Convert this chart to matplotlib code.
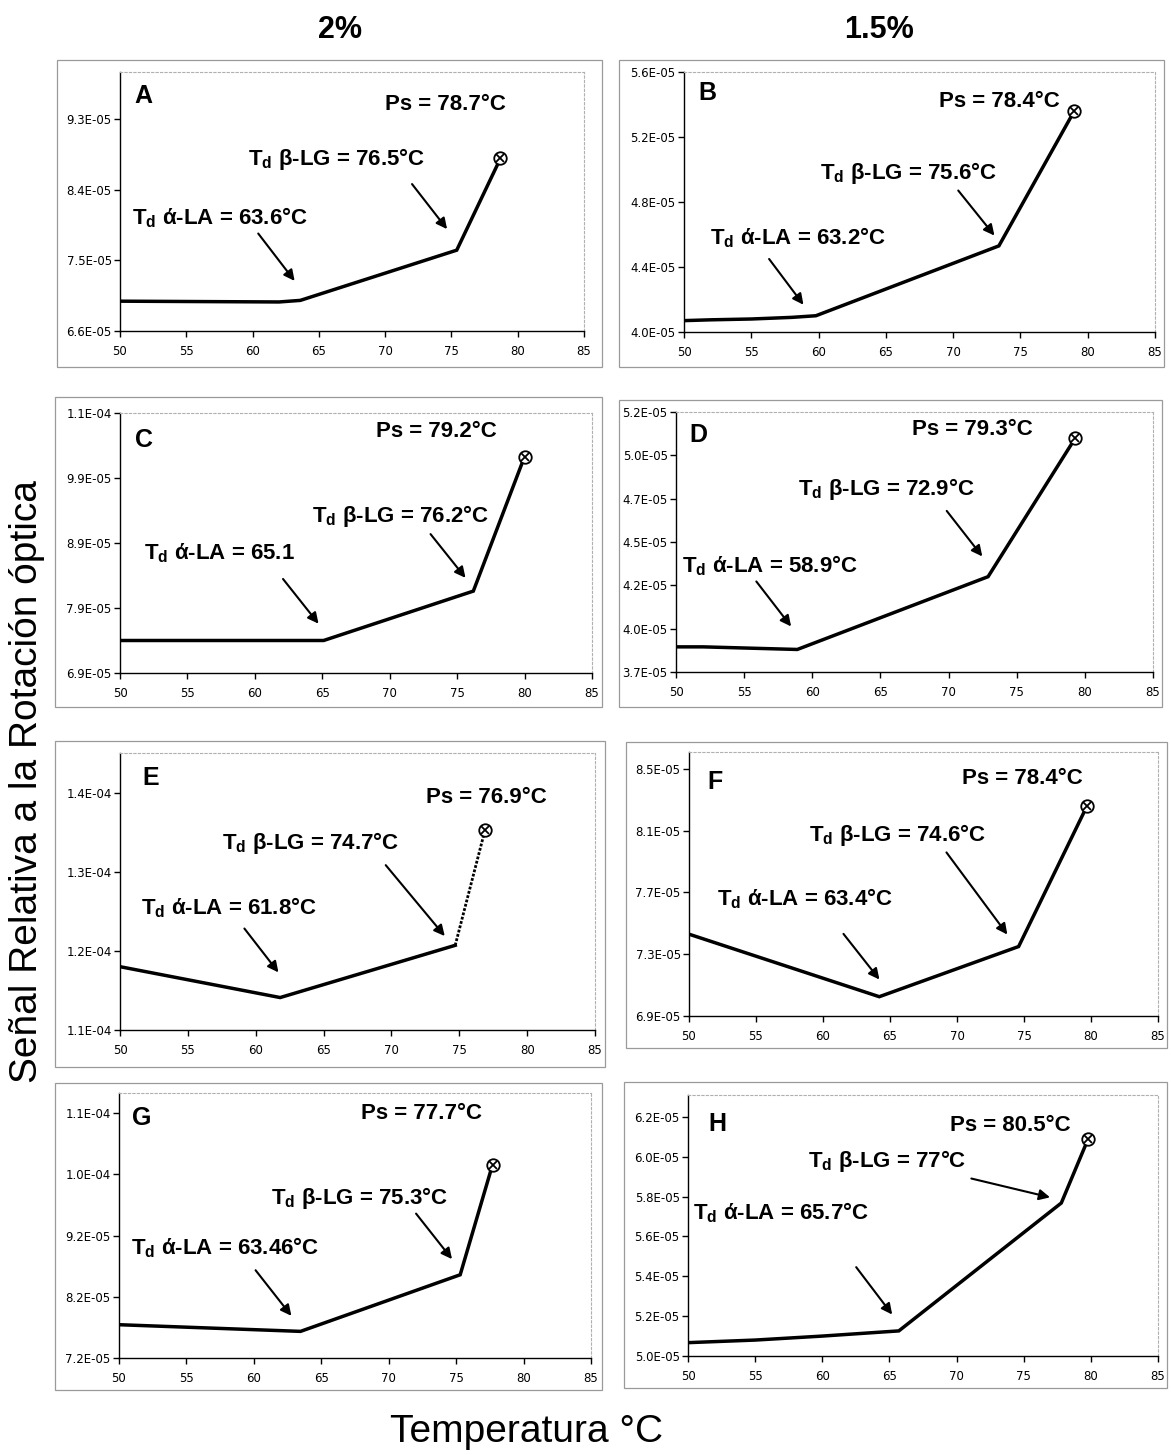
import matplotlib
matplotlib.use("Agg")
import matplotlib.pyplot as plt
from matplotlib.patches import Rectangle

plt.rcParams['font.family'] = ['Liberation Sans', 'DejaVu Sans']

W, H = 1171, 1455

# temperature (°C) / optical rotation signal for each panel
temp_A = [50, 62, 63.6, 75.4, 78.7]
signal_A = [6.98e-5, 6.97e-5, 6.99e-5, 7.63e-5, 8.80e-5]
temp_B = [50, 52, 55, 58, 59.8, 73.4, 79.0]
signal_B = [4.07e-5, 4.075e-5, 4.08e-5, 4.09e-5, 4.10e-5, 4.53e-5, 5.36e-5]
temp_C = [50, 65.1, 76.2, 80.0]
signal_C = [7.40e-5, 7.40e-5, 8.16e-5, 10.23e-5]
temp_D = [50, 52, 58.9, 72.9, 79.3]
signal_D = [3.845e-5, 3.845e-5, 3.83e-5, 4.25e-5, 5.05e-5]
temp_E = [50, 61.8, 74.7]
signal_E = [1.180e-4, 1.141e-4, 1.207e-4]
temp_E_end = [74.7, 76.9]
signal_E_end = [1.207e-4, 1.353e-4]
temp_F = [50, 64.2, 74.6, 79.7]
signal_F = [7.43e-5, 7.025e-5, 7.35e-5, 8.26e-5]
temp_G = [50, 63.46, 75.3, 77.7]
signal_G = [7.744e-5, 7.635e-5, 8.56e-5, 10.36e-5]
temp_H = [50, 55, 60, 65.7, 77.8, 79.8]
signal_H = [5.067e-5, 5.08e-5, 5.10e-5, 5.126e-5, 5.768e-5, 6.09e-5]

yticks_A = [6.6e-5, 7.5e-5, 8.4e-5, 9.3e-5]
ylabels_A = ['6.6E-05', '7.5E-05', '8.4E-05', '9.3E-05']
yticks_B = [4.0e-5, 4.4e-5, 4.8e-5, 5.2e-5, 5.6e-5]
ylabels_B = ['4.0E-05', '4.4E-05', '4.8E-05', '5.2E-05', '5.6E-05']
yticks_C = [6.9e-5, 7.9e-5, 8.9e-5, 9.9e-5, 10.9e-5]
ylabels_C = ['6.9E-05', '7.9E-05', '8.9E-05', '9.9E-05', '1.1E-04']
yticks_D = [3.70e-5, 3.95e-5, 4.20e-5, 4.45e-5, 4.70e-5, 4.95e-5, 5.20e-5]
ylabels_D = ['3.7E-05', '4.0E-05', '4.2E-05', '4.5E-05', '4.7E-05', '5.0E-05', '5.2E-05']
yticks_E = [1.1e-4, 1.2e-4, 1.3e-4, 1.4e-4]
ylabels_E = ['1.1E-04', '1.2E-04', '1.3E-04', '1.4E-04']
yticks_F = [6.9e-5, 7.3e-5, 7.7e-5, 8.1e-5, 8.5e-5]
ylabels_F = ['6.9E-05', '7.3E-05', '7.7E-05', '8.1E-05', '8.5E-05']
yticks_G = [7.2e-5, 8.2e-5, 9.2e-5, 10.2e-5, 11.2e-5]
ylabels_G = ['7.2E-05', '8.2E-05', '9.2E-05', '1.0E-04', '1.1E-04']
yticks_H = [5.0e-5, 5.2e-5, 5.4e-5, 5.6e-5, 5.8e-5, 6.0e-5, 6.2e-5]
ylabels_H = ['5.0E-05', '5.2E-05', '5.4E-05', '5.6E-05', '5.8E-05', '6.0E-05', '6.2E-05']

xticks = [50, 55, 60, 65, 70, 75, 80, 85]

td_alpha = ['63.6°C', '63.2°C', '65.1', '58.9°C', '61.8°C', '63.4°C', '63.46°C', '65.7°C']
td_beta = ['76.5°C', '75.6°C', '76.2°C', '72.9°C', '74.7°C', '74.6°C', '75.3°C', '77°C']
ps_temp = ['78.7°C', '78.4°C', '79.2°C', '79.3°C', '76.9°C', '78.4°C', '77.7°C', '80.5°C']

panels = ['A', 'B', 'C', 'D', 'E', 'F', 'G', 'H']
temps = [temp_A, temp_B, temp_C, temp_D, temp_E, temp_F, temp_G, temp_H]
signals = [signal_A, signal_B, signal_C, signal_D, signal_E, signal_F, signal_G, signal_H]
yticks = [yticks_A, yticks_B, yticks_C, yticks_D, yticks_E, yticks_F, yticks_G, yticks_H]
ylabels = [ylabels_A, ylabels_B, ylabels_C, ylabels_D, ylabels_E, ylabels_F, ylabels_G, ylabels_H]

# layout in pixels: axes box (l, t, r, b), outer frame, y-limits, and
# label / arrow positions in data units (y in units of 1e-5)
layout = {
    'A': dict(ax=(120, 72, 584, 331), frame=(57, 60, 602, 367), ylim=(6.6, 9.9),
              letter=(51.1, 9.59), ps=(79.1, 9.48), beta=(66.3, 8.79), alpha=(57.5, 8.04),
              beta_arrow=((71.9, 8.50), (74.8, 7.87)), alpha_arrow=((60.3, 7.87), (63.3, 7.21))),
    'B': dict(ax=(684, 72, 1155, 332), frame=(619, 60, 1164, 367), ylim=(4.0, 5.6),
              letter=(51.1, 5.47), ps=(77.9, 5.42), beta=(66.7, 4.977), alpha=(58.5, 4.58),
              beta_arrow=((70.25, 4.884), (73.2, 4.58)), alpha_arrow=((56.2, 4.463), (59.0, 4.154))),
    'C': dict(ax=(120, 413, 592, 673), frame=(55, 397, 602, 707), ylim=(6.9, 10.9),
              letter=(51.1, 10.49), ps=(77.9, 10.61), beta=(70.8, 9.32), alpha=(57.4, 8.74),
              beta_arrow=((72.9, 9.07), (75.75, 8.33)), alpha_arrow=((61.96, 8.38), (64.85, 7.625))),
    'D': dict(ax=(676, 412, 1153, 672), frame=(619, 400, 1162, 707), ylim=(3.7, 5.2),
              letter=(51.0, 5.07), ps=(76.2, 5.10), beta=(65.4, 4.758), alpha=(56.9, 4.315),
              beta_arrow=((69.74, 4.642), (72.6, 4.354)), alpha_arrow=((55.77, 4.235), (58.57, 3.95))),
    'E': dict(ax=(120, 753, 595, 1030), frame=(55, 741, 605, 1067), ylim=(11.0, 14.5),
              letter=(51.65, 14.18), ps=(81.45, 13.94), beta=(64.05, 13.36), alpha=(58.04, 12.55),
              beta_arrow=((69.45, 13.11), (74.06, 12.16)), alpha_arrow=((59.04, 12.31), (61.8, 11.70))),
    'F': dict(ax=(689, 752, 1158, 1016), frame=(626, 742, 1167, 1048), ylim=(6.9, 8.61),
              letter=(51.4, 8.416), ps=(79.4, 8.437), beta=(65.54, 8.07), alpha=(58.66, 7.657),
              beta_arrow=((69.09, 7.974), (73.88, 7.413)), alpha_arrow=((61.4, 7.446), (64.34, 7.122))),
    'G': dict(ax=(119, 1093, 591, 1358), frame=(55, 1083, 602, 1390), ylim=(7.2, 11.53),
              letter=(50.95, 11.12), ps=(76.93, 11.2), beta=(67.86, 9.81), alpha=(57.86, 9.0),
              beta_arrow=((71.9, 9.595), (74.82, 8.78)), alpha_arrow=((60.0, 8.67), (62.91, 7.853))),
    'H': dict(ax=(688, 1095, 1158, 1356), frame=(624, 1082, 1167, 1388), ylim=(5.0, 6.31),
              letter=(51.5, 6.163), ps=(78.49, 6.155), beta=(64.86, 5.978), alpha=(56.9, 5.718),
              beta_arrow=((70.9, 5.894), (77.16, 5.793)), alpha_arrow=((62.4, 5.457), (65.33, 5.197))),
}


def px_rect(l, t, r, b):
    return [l / W, 1 - b / H, (r - l) / W, (b - t) / H]


fig = plt.figure(figsize=(W / 100, H / 100), dpi=100)
fig.patch.set_facecolor('white')

label_kw = dict(fontsize=16, fontweight='bold', color='black')
arrow_kw = dict(arrowstyle='-|>', color='black', lw=1.5, mutation_scale=16)

for i, name in enumerate(panels):
    lay = layout[name]
    s = 1e-5

    l, t, r, b = lay['frame']
    fig.add_artist(Rectangle((l / W, 1 - b / H), (r - l) / W, (b - t) / H,
                             transform=fig.transFigure, fill=False,
                             edgecolor='#9a9a9a', lw=0.9))

    ax = fig.add_axes(px_rect(*lay['ax']))
    ax.plot(temps[i], signals[i], color='black', lw=2.5, solid_joinstyle='miter')
    if name == 'E':
        # last stretch of E is drawn dotted
        ax.plot(temp_E_end, signal_E_end, color='black', lw=2.0, linestyle=(0, (1, 0.6)))
        end_x, end_y = temp_E_end[-1], signal_E_end[-1]
    else:
        end_x, end_y = temps[i][-1], signals[i][-1]
    ax.plot(end_x, end_y, marker='o', ms=9, mfc='white', mec='black', mew=1.3)
    ax.plot(end_x, end_y, marker='x', ms=5.5, color='black', mew=1.3)

    ax.set_xlim(50, 85)
    ax.set_ylim(lay['ylim'][0] * s, lay['ylim'][1] * s)
    ax.set_xticks(xticks)
    ax.set_xticklabels([str(v) for v in xticks], family='DejaVu Sans')
    ax.set_yticks(yticks[i])
    ax.set_yticklabels(ylabels[i], family='DejaVu Sans')
    ax.tick_params(axis='both', direction='out', length=4, width=1, labelsize=8.5, pad=2)
    ax.tick_params(axis='x', pad=6)
    for side in ('left', 'bottom'):
        ax.spines[side].set_color('black')
        ax.spines[side].set_linewidth(1.0)
    for side in ('top', 'right'):
        ax.spines[side].set_color('#b0b0b0')
        ax.spines[side].set_linewidth(0.8)
        ax.spines[side].set_linestyle((0, (2, 2)))

    ax.text(lay['letter'][0], lay['letter'][1] * s, name, fontsize=18, fontweight='bold',
            ha='left', va='center')
    ax.text(lay['ps'][0], lay['ps'][1] * s, 'Ps = ' + ps_temp[i], ha='right', va='center', **label_kw)
    ax.text(lay['beta'][0], lay['beta'][1] * s, r'T$_\mathregular{d}$ β-LG = ' + td_beta[i],
            ha='center', va='center', **label_kw)
    ax.text(lay['alpha'][0], lay['alpha'][1] * s, r'T$_\mathregular{d}$ ά-LA = ' + td_alpha[i],
            ha='center', va='center', **label_kw)
    for key in ('beta_arrow', 'alpha_arrow'):
        (x0, y0), (x1, y1) = lay[key]
        ax.annotate('', xy=(x1, y1 * s), xytext=(x0, y0 * s), arrowprops=arrow_kw)

fig.text(340 / W, 1 - 30 / H, '2%', fontsize=22, fontweight='bold', ha='center', va='center')
fig.text(879 / W, 1 - 30 / H, '1.5%', fontsize=22, fontweight='bold', ha='center', va='center')
fig.text(27 / W, 1 - 782 / H, 'Señal Relativa a la Rotación óptica', fontsize=28,
         rotation=90, ha='center', va='center')
fig.text(527 / W, 1 - 1432 / H, 'Temperatura °C', fontsize=28, ha='center', va='center')

fig.savefig('out.png', dpi=100, facecolor='white')
